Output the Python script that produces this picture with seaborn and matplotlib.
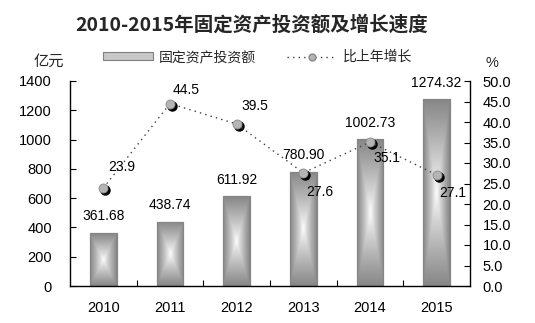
import numpy as np
import pandas as pd
import matplotlib
matplotlib.use("Agg")
import matplotlib.pyplot as plt
import matplotlib.transforms as mtransforms
from matplotlib.lines import Line2D
from matplotlib.patches import Patch
import seaborn as sns

years = ["2010", "2011", "2012", "2013", "2014", "2015"]
investment = [361.68, 438.74, 611.92, 780.90, 1002.73, 1274.32]
invest_labels = ["361.68", "438.74", "611.92", "780.90", "1002.73", "1274.32"]
growth = [23.9, 44.5, 39.5, 27.6, 35.1, 27.1]
growth_labels = ["23.9", "44.5", "39.5", "27.6", "35.1", "27.1"]
left_ticks = [0, 200, 400, 600, 800, 1000, 1200, 1400]
right_ticks = [0, 5, 10, 15, 20, 25, 30, 35, 40, 45, 50]

title = "2010-2015年固定资产投资额及增长速度"
bar_name = "固定资产投资额"
line_name = "比上年增长"

sns.set_theme(style="white")
plt.rcParams["font.family"] = ["Liberation Sans", "Noto Sans CJK SC", "DejaVu Sans"]
CJK = ["Noto Sans CJK SC", "DejaVu Sans"]

df = pd.DataFrame({"year": years, "investment": investment, "growth": growth})

fig = plt.figure(figsize=(5.35, 3.23), dpi=100)
fig.patch.set_facecolor("white")
ax = fig.add_axes([70/535, 1-286/323, 400/535, 205/323])

sns.barplot(data=df, x="year", y="investment", ax=ax, width=0.4,
            color="#9a9a9a", edgecolor="#7f7f7f", linewidth=0.8, saturation=1)

# gradient fill clipped to each bar
ny, nx = 100, 60
u = np.linspace(-1, 1, nx)[None, :]
v = np.linspace(-1, 1, ny)[:, None]
t = np.maximum(np.abs(u), np.abs(v))
shade = 1 - 0.47 * t ** 0.85
img = np.dstack([shade, shade, shade])
for p in list(ax.patches):
    x0, y0 = p.get_x(), p.get_y()
    w, h = p.get_width(), p.get_height()
    im = ax.imshow(img, extent=[x0, x0 + w, y0, y0 + h], aspect="auto",
                   zorder=p.get_zorder() + 0.1, interpolation="bilinear")
    im.set_clip_path(p)
    edge = plt.Rectangle((x0, y0), w, h, fill=False, edgecolor="#858585",
                         linewidth=0.8, zorder=p.get_zorder() + 0.2)
    ax.add_patch(edge)

ax.set_xlim(-0.5, 5.5)
ax.set_ylim(0, 1400)
ax.set_yticks(left_ticks)
ax.set_yticklabels([str(v) for v in left_ticks])
ax.set_xlabel("")
ax.set_ylabel("")
ax.set_xticks(range(len(years)))
ax.set_xticklabels(years)
ax.set_xticks([0.5, 1.5, 2.5, 3.5, 4.5], minor=True)
ax.tick_params(axis="x", which="major", length=0, pad=11, labelsize=10.5, colors="black")
ax.tick_params(axis="x", which="minor", direction="in", length=4, width=0.8, color="black", bottom=True)
ax.tick_params(axis="y", direction="in", length=4, width=0.8, pad=13, labelsize=10.5, colors="black", left=True)
for s in ["left", "bottom"]:
    ax.spines[s].set_color("black")
    ax.spines[s].set_linewidth(1.0)
ax.spines["top"].set_visible(False)
ax.spines["right"].set_visible(False)

for i, (val, lab) in enumerate(zip(investment, invest_labels)):
    ax.annotate(lab, (i, val), xytext=(0, 12), textcoords="offset points",
                ha="center", va="center", fontsize=10, color="black", zorder=10)

ax2 = ax.twinx()
ax2.set_ylim(0, 50)
ax2.set_yticks(right_ticks)
ax2.set_yticklabels([f"{v:.1f}" for v in right_ticks])
ax2.tick_params(axis="y", direction="in", length=4, width=0.8, pad=9, labelsize=10.5, colors="black", right=True)
for s in ["top", "left", "bottom"]:
    ax2.spines[s].set_visible(False)
ax2.spines["right"].set_color("black")
ax2.spines["right"].set_linewidth(1.0)
ax2.grid(False)
ax.grid(False)

xpos = np.arange(len(years))
shadow_tr = mtransforms.offset_copy(ax2.transData, fig=fig, x=1.5, y=-1.5, units="points")
ax2.plot(xpos, growth, linestyle="none", marker="o", markersize=6.5,
         color="black", transform=shadow_tr, zorder=5)
sns.lineplot(x=xpos, y=growth, ax=ax2, color="#404040", linestyle=(0, (1, 3)),
             linewidth=1.0, marker="o", markersize=6.5, markerfacecolor="#b4b4b4",
             markeredgecolor="#8a8a8a", markeredgewidth=0.6, zorder=6)

offsets = [(13, 15), (11.5, 10), (13, 13), (12, -14), (12, -11.5), (11.5, -13)]
for i, (val, lab, off) in enumerate(zip(growth, growth_labels, offsets)):
    ax2.annotate(lab, (i, val), xytext=off, textcoords="offset points",
                 ha="center", va="center", fontsize=10, color="black", zorder=10)

fig.text(252/535, 1-25/323, title, ha="center", va="center", fontsize=14,
         fontweight="bold", family=CJK)
fig.text(34/535, 1-61/323, "亿元", ha="left", va="center", fontsize=11, family=CJK)
fig.text(485/535, 1-63/323, "%", ha="left", va="center", fontsize=10.5)

h_bar = Patch(facecolor="#c8c8c8", edgecolor="#808080", linewidth=0.8)
h_line = Line2D([], [], color="#404040", linestyle=(0, (1, 3)), linewidth=1.0,
                marker="o", markersize=5, markerfacecolor="#b4b4b4", markeredgecolor="#8a8a8a")
leg = fig.legend([h_bar, h_line], [bar_name, line_name], ncol=2, frameon=False,
                 loc="center left", bbox_to_anchor=(103/535, 1-57/323),
                 handlelength=3.6, handleheight=0.45, columnspacing=2.2, handletextpad=0.45,
                 prop={"family": CJK, "size": 10},
                 borderaxespad=0, borderpad=0)

fig.savefig("out.png", dpi=100, facecolor="white")
